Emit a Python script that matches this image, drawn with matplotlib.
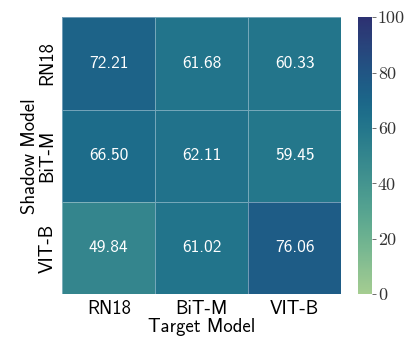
import numpy as np
import matplotlib
matplotlib.use('Agg')
import matplotlib.pyplot as plt
import seaborn as sns

# rows = shadow model, cols = target model
targets = ['RN18', 'BiT-M', 'VIT-B']
shadows = ['RN18', 'BiT-M', 'VIT-B']
acc = np.array([[72.21, 61.68, 60.33],
                [66.50, 62.11, 59.45],
                [49.84, 61.02, 76.06]])

plt.rcParams['font.family'] = ['cmss10', 'DejaVu Sans']
plt.rcParams['axes.unicode_minus'] = False

fig = plt.figure(figsize=(4.15, 3.46), dpi=100)
ax = fig.add_axes([0.150, 0.150, 0.672, 0.800])
cax = fig.add_axes([0.863, 0.150, 0.034, 0.800])

sns.heatmap(acc, ax=ax, cbar_ax=cax, cmap='crest', vmin=0, vmax=100,
            annot=True, fmt='.2f', annot_kws={'size': 12.5, 'color': 'white'},
            linewidths=0.5, linecolor=(0.85, 0.9, 0.95, 0.45),
            xticklabels=targets, yticklabels=shadows)

ax.tick_params(length=0, labelsize=13.5, pad=4)
ax.set_xlabel('Target Model', fontsize=13.5, labelpad=0)
ax.set_ylabel('Shadow Model', fontsize=13.5, labelpad=0)
ax.set_yticklabels(shadows, rotation=90, va='center')

cax.tick_params(labelsize=13, length=3, width=0.6, pad=1, color='#555555')
cax.set_yticks([0, 20, 40, 60, 80, 100])
cax.set_yticklabels(['0', '20', '40', '60', '80', '100'], fontfamily='cmr10', color='#333333')
for s in cax.spines.values():
    s.set_visible(False)

fig.savefig('out.png', dpi=100)
